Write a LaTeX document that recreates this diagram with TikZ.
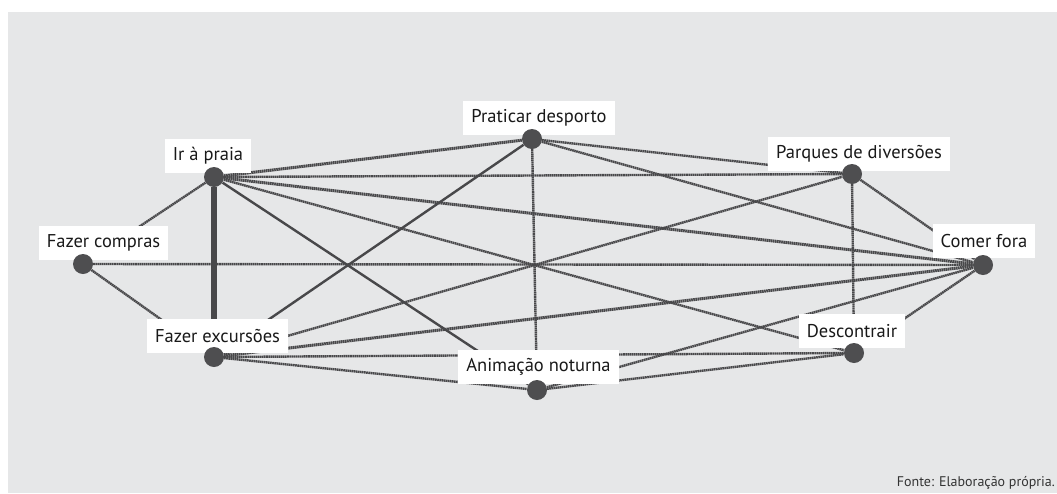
\documentclass[tikz,border=0pt]{standalone}
\usepackage{fontspec}
\setmainfont{PT Sans}
\usetikzlibrary{backgrounds}
\pgfdeclarelayer{links}
\pgfsetlayers{background,links,main}
\definecolor{panel}{RGB}{230,231,232}
\definecolor{linkgray}{RGB}{72,72,74}
\definecolor{dotgray}{RGB}{78,78,80}

\begin{document}
\begin{tikzpicture}[x=1pt,y=-1pt,
  dot/.style={circle,fill=dotgray,inner sep=0pt,minimum size=20pt},
  tag/.style={fill=white,inner xsep=8pt,inner ysep=0pt,minimum height=34pt,font=\fontsize{18.5}{20}\selectfont,text=black!90},
  link/.style={linkgray,line width=2.4pt,dash pattern=on 1.6pt off 0.5pt},
  heavylink/.style={link,line width=3pt},
  solidlink/.style={linkgray,line width=2.4pt}]
\useasboundingbox (0,0) rectangle (1057,493);
\begin{pgfonlayer}{background}
\fill[panel] (8,12) rectangle (1057,493);
\end{pgfonlayer}

\path (539,118) node[tag](tagdesporto){Praticar desporto} (208,156) node[tag](tagpraia){Ir à praia} (859,154) node[tag](tagparques){Parques de diversões} (103.5,243) node[tag](tagcompras){Fazer compras} (984,241) node[tag](tagcomer){Comer fora} (217.5,336) node[tag](tagexcursoes){Fazer excursões} (852,331) node[tag](tagdescontrair){Descontrair} (538.5,367) node[tag](taganimacao){Animação noturna};

\path (532,139) node[dot](desporto){} (214,177) node[dot](praia){} (852,174) node[dot](parques){} (83,264) node[dot](compras){} (983,265) node[dot](comer){} (214,357) node[dot](excursoes){} (854,353) node[dot](descontrair){} (537,390) node[dot](animacao){};

\path (1055,486) node[anchor=base east,inner sep=0pt,font=\fontsize{14}{16}\selectfont,text=black!80](fonte){Fonte: Elaboração própria.};

\begin{pgfonlayer}{links}
\draw[solidlink,line width=6.5pt] (praia) -- (excursoes);
\draw[solidlink] (desporto) -- (excursoes);
\draw[solidlink] (praia) -- (animacao);
\draw[heavylink] (praia) -- (desporto);
\draw[link] (praia) -- (compras);
\draw[link] (praia) -- (parques);
\draw[heavylink] (praia) -- (comer);
\draw[link] (praia) -- (descontrair);
\draw[link] (desporto) -- (animacao);
\draw[link] (desporto) -- (parques);
\draw[link] (desporto) -- (comer);
\draw[link] (compras) -- (comer);
\draw[link] (compras) -- (excursoes);
\draw[link] (excursoes) -- (parques);
\draw[heavylink] (excursoes) -- (comer);
\draw[link] (excursoes) -- (descontrair);
\draw[link] (excursoes) -- (animacao);
\draw[link] (animacao) -- (descontrair);
\draw[link] (animacao) -- (comer);
\draw[link] (parques) -- (descontrair);
\draw[link] (parques) -- (comer);
\draw[link] (descontrair) -- (comer);
\end{pgfonlayer}
\end{tikzpicture}
\end{document}
